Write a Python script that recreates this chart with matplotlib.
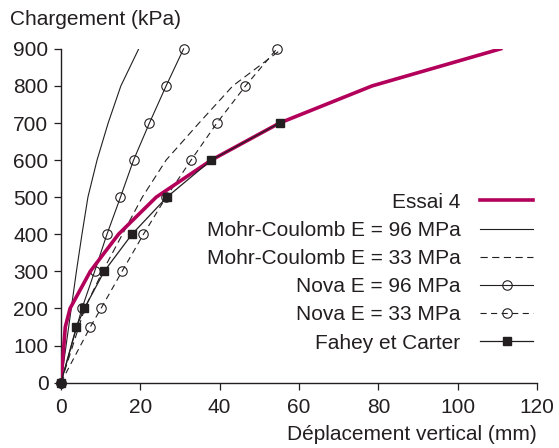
# Courbes chargement / déplacement : essai 4 et modèles
import matplotlib
matplotlib.use("Agg")
import matplotlib.pyplot as plt

plt.rcParams["font.family"] = ["Liberation Sans", "DejaVu Sans"]

INK = "#231f20"
CRIMSON = "#b3005a"
FS = 15

# ── données ─────────────────────────────────────────────────────────────────
essai_x = [0, 1.1, 2.3, 7.4, 14.5, 24.0, 37.9, 55.1, 78.4, 110.8]
essai_y = [0, 150, 200, 300, 400, 500, 600, 700, 800, 900]

mc96_x = [0, 1.3, 2.6, 3.9, 5.3, 6.8, 9.1, 11.9, 15.1, 19.6]
mc96_y = [0, 100, 200, 300, 400, 500, 600, 700, 800, 900]

mc33_x = [0, 3.0, 6.0, 10.5, 15.5, 20.5, 26.5, 34.8, 43.3, 49.5, 55.7]
mc33_y = [0, 100, 200, 300, 400, 500, 600, 700, 800, 850, 900]

nova96_x = [0, 5.3, 8.5, 11.6, 15.0, 18.3, 22.3, 26.5, 30.9]
nova96_y = [0, 200, 300, 400, 500, 600, 700, 800, 900]

nova33_x = [0, 7.4, 10.1, 15.4, 20.8, 26.5, 32.8, 39.3, 46.5, 54.4]
nova33_y = [0, 150, 200, 300, 400, 500, 600, 700, 800, 900]

fahey_x = [0, 3.9, 5.9, 10.9, 17.9, 26.7, 37.9, 55.1]
fahey_y = [0, 150, 200, 300, 400, 500, 600, 700]

x_ticks = [0, 20, 40, 60, 80, 100, 120]
y_ticks = [0, 100, 200, 300, 400, 500, 600, 700, 800, 900]

# ── figure ──────────────────────────────────────────────────────────────────
fig = plt.figure(figsize=(5.59, 4.48), dpi=100)
ax = fig.add_axes([0.109, 0.146, 0.852, 0.745])

ax.plot(essai_x, essai_y, color=CRIMSON, lw=2.6, label="Essai 4", zorder=3)
ax.plot(mc96_x, mc96_y, color=INK, lw=0.8, label="Mohr-Coulomb E = 96 MPa")
ax.plot(mc33_x, mc33_y, color=INK, lw=0.8, dashes=(6.5, 4),
        label="Mohr-Coulomb E = 33 MPa")
ax.plot(nova96_x, nova96_y, color=INK, lw=0.8, marker="o", ms=6.8,
        mfc="none", mew=0.8, label="Nova E = 96 MPa", clip_on=False)
ax.plot(nova33_x, nova33_y, color=INK, lw=0.8, dashes=(5.5, 4), marker="o",
        ms=6.8, mfc="none", mew=0.8, label="Nova E = 33 MPa", clip_on=False)
ax.plot(fahey_x, fahey_y, color=INK, lw=0.9, marker="s", ms=6,
        label="Fahey et Carter", zorder=4, clip_on=False)

ax.set_xlim(0, 120)
ax.set_ylim(0, 900)
ax.set_xticks(x_ticks)
ax.set_yticks(y_ticks)
for s in ("top", "right"):
    ax.spines[s].set_visible(False)
for s in ("left", "bottom"):
    ax.spines[s].set_color(INK)
    ax.spines[s].set_linewidth(1.0)
ax.tick_params(axis="both", direction="out", length=5, width=0.9,
               colors=INK, labelsize=FS)
ax.tick_params(axis="x", pad=6)
ax.tick_params(axis="y", pad=4)

fig.text(0.018, 0.945, "Chargement (kPa)", fontsize=FS, color=INK,
         ha="left", va="baseline")
fig.text(0.961, 0.018, "Déplacement vertical (mm)", fontsize=FS, color=INK,
         ha="right", va="baseline")

leg = ax.legend(loc="lower right", bbox_to_anchor=(0.992, 0.09),
                markerfirst=False, frameon=False, fontsize=FS,
                handlelength=2.55, handletextpad=0.95, labelspacing=0.44,
                borderpad=0, borderaxespad=0)
for t in leg.get_texts():
    t.set_color(INK)

fig.savefig("out.png", dpi=100, facecolor="white")
